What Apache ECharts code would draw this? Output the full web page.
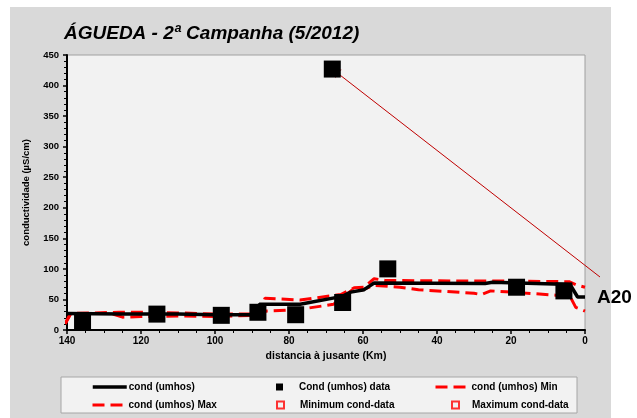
<!DOCTYPE html>
<html>
<head>
<meta charset="utf-8">
<script src="https://cdn.jsdelivr.net/npm/echarts@6/dist/echarts.min.js"></script>
<style>
html,body{margin:0;padding:0;background:#ffffff;}
#chart{width:637px;height:418px;}
</style>
</head>
<body>
<div id="chart"></div>
<script>
// ---- data (distance km, conductivity µS/cm) ----
var condKm   = [140, 125, 110, 100, 88.5, 88, 77, 65.6, 63.3, 59.7, 57, 27, 25, 18, 6, 4, 2, 0];
var condVal  = [27, 26, 26, 25, 25, 42, 42, 55, 62, 66, 77, 76, 78, 77, 75, 74, 54, 54];

var dataKm   = [135.8, 115.7, 98.3, 88.4, 78.2, 65.5, 68.3, 53.3, 18.5, 5.7];
var dataVal  = [13, 26, 24, 29, 25, 45, 427, 100, 70, 64];

var minKm    = [140.5, 139, 128, 125, 120, 110, 100, 90, 86, 78, 68, 63, 60, 57, 50, 45, 30, 28, 25.5, 20, 8, 4, 2.5, 0];
var minVal   = [10, 27, 27, 21, 22, 23, 22, 24, 31, 33, 42, 65, 66, 73, 70, 66, 60, 58, 64, 62, 57, 54.5, 37, 31];

var maxKm    = [140.5, 139, 126, 120, 110, 100, 88, 86.5, 77, 66, 62.4, 59.7, 57, 54, 30, 20, 4.3, 2, 0];
var maxVal   = [10, 27, 29, 29, 28, 26, 26, 52, 49, 58, 69, 70, 84, 81, 80, 80, 79, 73, 70];

var minDataKm = [], minDataVal = [];
var maxDataKm = [], maxDataVal = [];

var xTicks = [0, 20, 40, 60, 80, 100, 120, 140];
var yTicks = [0, 50, 100, 150, 200, 250, 300, 350, 400, 450];

var outlierIndex = 6;

function zip(a, b) { return a.map(function (v, i) { return [v, b[i]]; }); }

var FONT = '"Liberation Sans", Arial, sans-serif';
var chart = echarts.init(document.getElementById('chart'), null, {renderer: 'canvas'});

var redDash = {color: '#ff0000', width: 3, type: [12, 6]};

function legendLine(name, left, top, pad, lineStyle) {
  return {
    data: [name], left: left, top: top, orient: 'horizontal',
    itemWidth: 34, itemHeight: 10, itemGap: 0, padding: 0,
    itemStyle: {opacity: 0},
    lineStyle: lineStyle,
    textStyle: {fontFamily: FONT, fontSize: 10, fontWeight: 'bold', color: '#000', padding: [0, 0, 0, pad]},
    selectedMode: false
  };
}
function legendMark(name, left, top, pad) {
  return {
    data: [name], left: left, top: top, orient: 'horizontal',
    itemWidth: 7, itemHeight: 7, itemGap: 0, padding: 0,
    textStyle: {fontFamily: FONT, fontSize: 10, fontWeight: 'bold', color: '#000', padding: [0, 0, 0, pad]},
    selectedMode: false
  };
}

var option = {
  animation: false,
  backgroundColor: '#ffffff',
  graphic: [
    {type: 'rect', z: -10, shape: {x: 10, y: 7, width: 601, height: 411}, style: {fill: '#d9d9d9'}},
    {type: 'rect', z: -5, shape: {x: 61, y: 377, width: 516, height: 36}, style: {fill: '#f2f2f2', stroke: '#a6a6a6', lineWidth: 1}},
    {type: 'text', z: 10, left: 597, top: 288, style: {text: 'A20', font: 'bold 19px "Liberation Sans", Arial, sans-serif', fill: '#000'}}
  ],
  title: {
    text: 'ÁGUEDA - 2ª Campanha (5/2012)',
    left: 59, top: 19,
    textStyle: {fontFamily: FONT, fontSize: 19, fontWeight: 'bold', fontStyle: 'italic', color: '#000'}
  },
  legend: [
    legendLine('cond (umhos)', 91, 382, -3, {width: 3.5, color: '#000', type: 'solid'}),
    legendMark('Cond (umhos) data', 276, 382, 11),
    legendLine('cond (umhos) Min', 434, 382, -3, {width: 3, color: '#ff0000', type: [12, 6]}),
    legendLine('cond (umhos) Max', 91, 400, -3, {width: 3, color: '#ff0000', type: [12, 6]}),
    legendMark('Minimum cond-data', 276, 400, 11),
    legendMark('Maximum cond-data', 451, 400, 8)
  ],
  grid: {
    left: 67, width: 518, top: 55, height: 275,
    show: true, backgroundColor: '#f2f2f2', borderColor: '#a0a0a0', borderWidth: 1
  },
  xAxis: {
    type: 'value', min: 0, max: 140, interval: 20, inverse: true,
    name: 'distancia à jusante (Km)', nameLocation: 'middle', nameGap: 17,
    nameTextStyle: {fontFamily: FONT, fontSize: 10.5, fontWeight: 'bold', color: '#000'},
    axisLine: {onZero: false, lineStyle: {color: '#000', width: 2}},
    axisTick: {show: true, inside: false, length: 4, lineStyle: {color: '#000', width: 1.5}},
    minorTick: {show: true, splitNumber: 4, length: 3, lineStyle: {color: '#000'}},
    axisLabel: {fontFamily: FONT, fontSize: 10, fontWeight: 'bold', color: '#000', margin: 6,
      customValues: xTicks},
    splitLine: {show: false}
  },
  yAxis: {
    type: 'value', min: 0, max: 450, interval: 50,
    name: 'conductividade (µS/cm)', nameLocation: 'middle', nameGap: 36,
    nameTextStyle: {fontFamily: FONT, fontSize: 9.5, fontWeight: 'bold', color: '#000'},
    axisLine: {show: true, onZero: false, lineStyle: {color: '#000', width: 2}},
    axisTick: {show: true, inside: false, length: 4, lineStyle: {color: '#000', width: 1.5}},
    minorTick: {show: true, splitNumber: 5, length: 3, lineStyle: {color: '#000'}},
    axisLabel: {fontFamily: FONT, fontSize: 9.5, fontWeight: 'bold', color: '#000', margin: 8,
      customValues: yTicks},
    splitLine: {show: false}
  },
  series: [
    {
      name: 'cond (umhos) Max', type: 'line', data: zip(maxKm, maxVal), symbol: 'none',
      lineStyle: redDash, itemStyle: {color: '#ff0000'}, z: 3
    },
    {
      name: 'cond (umhos) Min', type: 'line', data: zip(minKm, minVal), symbol: 'none',
      lineStyle: redDash, itemStyle: {color: '#ff0000'}, z: 3
    },
    {
      name: 'cond (umhos)', type: 'line', data: zip(condKm, condVal), symbol: 'none',
      lineStyle: {color: '#000', width: 3.5}, itemStyle: {color: '#000'}, z: 4
    },
    {
      name: 'Cond (umhos) data', type: 'scatter', data: zip(dataKm, dataVal),
      symbol: 'rect', symbolSize: 17, itemStyle: {color: '#000', opacity: 1}, z: 5,
      markLine: {
        silent: true, animation: false,
        symbol: ['arrow', 'none'], symbolSize: 8,
        label: {show: false},
        lineStyle: {color: '#c00000', width: 1, type: 'solid'},
        data: [[
          {coord: [dataKm[outlierIndex], dataVal[outlierIndex]], symbol: 'arrow'},
          {x: 600, y: 277, symbol: 'none'}
        ]]
      }
    },
    {
      name: 'Minimum cond-data', type: 'scatter', data: zip(minDataKm, minDataVal),
      symbol: 'rect', symbolSize: 8, itemStyle: {color: 'transparent', borderColor: '#ff0000', borderWidth: 1.5}
    },
    {
      name: 'Maximum cond-data', type: 'scatter', data: zip(maxDataKm, maxDataVal),
      symbol: 'rect', symbolSize: 8, itemStyle: {color: 'transparent', borderColor: '#ff0000', borderWidth: 1.5}
    }
  ]
};
chart.setOption(option);
</script>
</body>
</html>
